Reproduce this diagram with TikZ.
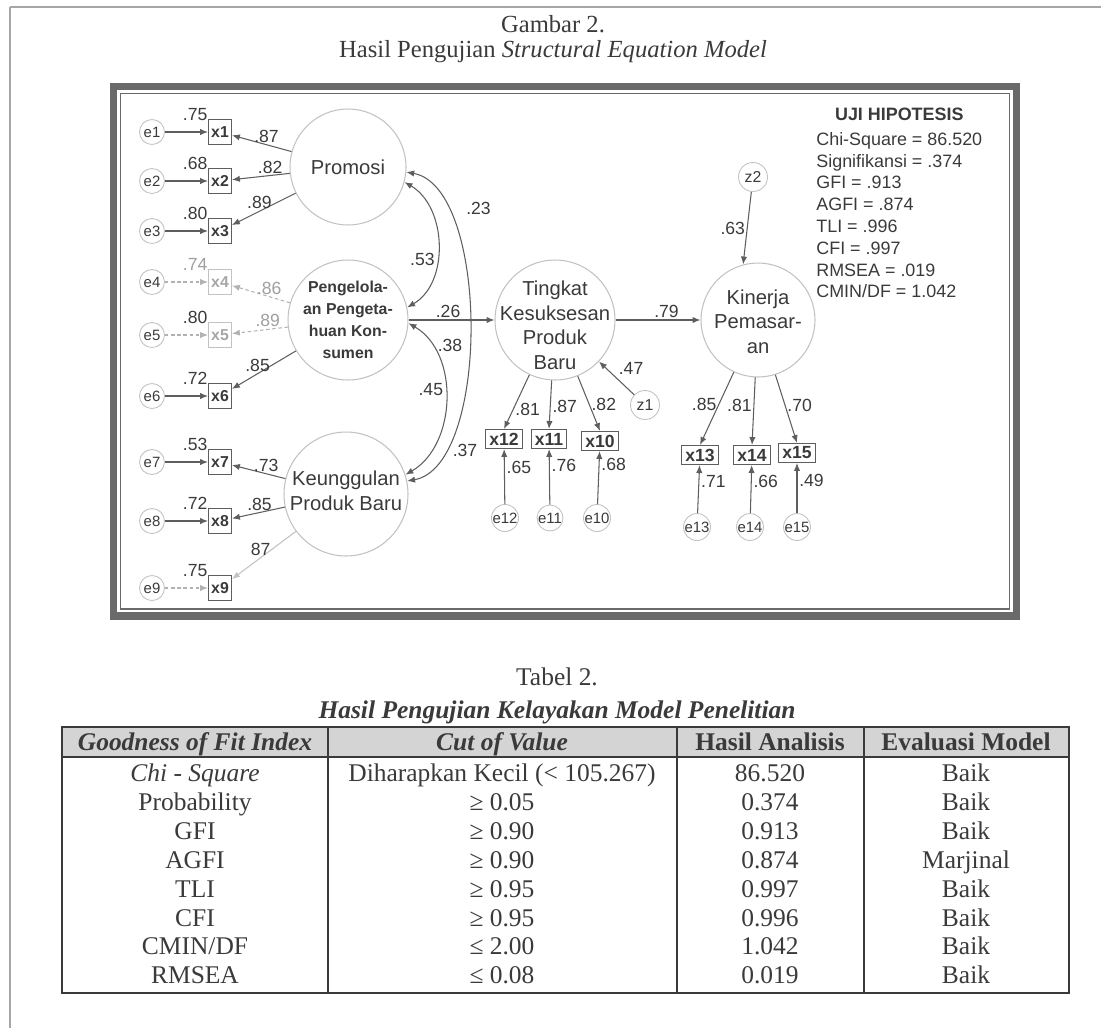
\documentclass[tikz,border=0pt]{standalone}
\usepackage{fontspec}
\setmainfont{Liberation Serif}
\setsansfont{Liberation Sans}
\usepackage{xcolor}
\usetikzlibrary{arrows.meta,positioning}

\definecolor{ink}{HTML}{3A3A3A}
\definecolor{wire}{HTML}{5E5E5E}
\definecolor{faint}{HTML}{C2C2C2}
\definecolor{rim}{HTML}{6A6A6A}
\definecolor{headfill}{HTML}{D4D4D4}

\begin{document}
\begin{tikzpicture}[
    x=0.02cm, y=0.02cm,
    latent/.style={circle, draw=faint, line width=0.6pt, inner sep=0pt},
    ltext/.style={text=ink, font=\sffamily\fontsize{11.5}{14}\selectfont, align=center, inner sep=0pt},
    lbold/.style={text=ink, font=\sffamily\bfseries\fontsize{9}{12.4}\selectfont, align=center, inner sep=0pt},
    indtall/.style={rectangle, draw=wire, line width=0.6pt, text=ink, font=\sffamily\bfseries\fontsize{9}{10}\selectfont, inner xsep=1.5pt, inner ysep=1pt, minimum height=0.5cm},
    indbox/.style={rectangle, draw=wire, line width=0.6pt, text=ink, font=\sffamily\bfseries\fontsize{10}{11}\selectfont, inner xsep=2pt, inner ysep=1pt, minimum height=0.38cm},
    dimbox/.style={indtall, draw=faint, text=gray!70},
    errnode/.style={circle, draw=faint, line width=0.5pt, text=ink, font=\sffamily\fontsize{8.5}{9}\selectfont, inner sep=0pt, minimum size=0.5cm},
    resnode/.style={errnode, font=\sffamily\fontsize{9}{10}\selectfont, minimum size=0.58cm},
    arr/.style={-{Latex[length=4.5pt,width=3.6pt]}, draw=wire, line width=0.6pt},
    covarr/.style={{Latex[length=4.5pt,width=3.6pt]}-{Latex[length=4.5pt,width=3.6pt]}, draw=wire, line width=0.6pt},
    dimarr/.style={arr, draw=gray!60, dash pattern=on 2pt off 1.5pt},
    ghostarr/.style={arr, draw=faint},
    lbl/.style={text=ink, font=\sffamily\fontsize{10}{12}\selectfont, inner sep=1pt},
    dimlbl/.style={lbl, text=gray!75},
    fittitle/.style={text=ink, font=\sffamily\bfseries\fontsize{10.2}{12.4}\selectfont, inner sep=0pt},
    fitlist/.style={text=ink, font=\sffamily\fontsize{10.2}{12.4}\selectfont, align=left, inner sep=0pt},
    capt/.style={text=ink, font=\fontsize{14}{16}\selectfont, inner sep=0pt, anchor=base},
    thead/.style={text=ink, font=\bfseries\fontsize{14.5}{16.44}\selectfont, inner sep=0pt, anchor=base},
    tcol/.style={text=ink, font=\fontsize{14.5}{16.44}\selectfont, align=center, inner sep=0pt, anchor=north},
    tabrule/.style={draw=ink, line width=0.7pt},
    pagerule/.style={draw=gray!70, line width=1.1pt},
]
\useasboundingbox (0,0) rectangle (1101,-1028);

% page rules and caption
\draw[pagerule] (10,-7) -- (1101,-7);
\draw[pagerule] (10,-7) -- (10,-1028);
\node[capt] (figno) at (553,-32.5) {Gambar 2.};
\node[capt] (figtitle) at (553,-57.5) {Hasil Pengujian \textit{Structural Equation Model}};

% diagram frame
\draw[rim, line width=4pt] (113.5,-86.5) rectangle (1016.5,-616);
\draw[rim, line width=0.6pt] (120.5,-93.5) rectangle (1009.5,-609);

% latent variables
\node[latent, minimum size=2.32cm] (prom) at (348,-167) {};
\node[ltext] (promtxt) at (prom) {Promosi};
\node[latent, minimum size=2.4cm] (peng) at (348,-320) {};
\node[lbold] (pengtxt) at (peng) {Pengelola-\\an Pengeta-\\huan Kon-\\sumen};
\node[latent, minimum size=2.48cm] (keun) at (346,-494) {};
\node[ltext] (keuntxt) at ([yshift=2pt]keun) {Keunggulan\\Produk Baru};
\node[latent, minimum size=2.4cm] (ting) at (555,-320) {};
\node[ltext] (tingtxt) at ([yshift=-3pt]ting) {Tingkat\\Kesuksesan\\Produk\\Baru};
\node[latent, minimum size=2.28cm] (kin) at (758,-320) {};
\node[ltext] (kintxt) at ([yshift=-1pt]kin) {Kinerja\\Pemasar-\\an};

% indicators, left
\node[indtall] (x1) at (220,-132) {x1};
\node[indtall] (x2) at (220,-181) {x2};
\node[indtall] (x3) at (220,-231) {x3};
\node[dimbox]  (x4) at (220,-282) {x4};
\node[dimbox]  (x5) at (220,-335) {x5};
\node[indtall] (x6) at (220,-396) {x6};
\node[indtall] (x7) at (220,-462) {x7};
\node[indtall] (x8) at (220,-521) {x8};
\node[indtall] (x9) at (220,-588) {x9};

\node[errnode] (e1) at (152,-132) {e1};
\node[errnode] (e2) at (152,-181) {e2};
\node[errnode] (e3) at (152,-231) {e3};
\node[errnode] (e4) at (152,-282) {e4};
\node[errnode] (e5) at (152,-335) {e5};
\node[errnode] (e6) at (152,-396) {e6};
\node[errnode] (e7) at (152,-462) {e7};
\node[errnode] (e8) at (152,-521) {e8};
\node[errnode] (e9) at (152,-588) {e9};

% indicators, right
\node[indbox] (x12) at (504,-439) {x12};
\node[indbox] (x11) at (549,-439) {x11};
\node[indbox] (x10) at (600,-441) {x10};
\node[indbox] (x13) at (700,-455) {x13};
\node[indbox] (x14) at (752,-455) {x14};
\node[indbox] (x15) at (797,-453) {x15};

\node[errnode] (e12) at (505,-518) {e12};
\node[errnode] (e11) at (550,-518) {e11};
\node[errnode] (e10) at (597,-518) {e10};
\node[errnode] (e13) at (697,-527) {e13};
\node[errnode] (e14) at (750,-527) {e14};
\node[errnode] (e15) at (797,-527) {e15};

\node[resnode] (z1) at (645,-405) {z1};
\node[resnode] (z2) at (753,-177) {z2};

% error terms
\draw[arr] (e1) -- node[lbl, pos=0.7, above=5pt] {.75} (x1);
\draw[arr] (e2) -- node[lbl, pos=0.7, above=5pt] {.68} (x2);
\draw[arr] (e3) -- node[lbl, pos=0.7, above=5pt] {.80} (x3);
\draw[dimarr] (e4) -- node[dimlbl, pos=0.7, above=5pt] {.74} (x4);
\draw[dimarr] (e5) -- node[lbl, pos=0.7, above=5pt] {.80} (x5);
\draw[arr] (e6) -- node[lbl, pos=0.7, above=5pt] {.72} (x6);
\draw[arr] (e7) -- node[lbl, pos=0.7, above=5pt] {.53} (x7);
\draw[arr] (e8) -- node[lbl, pos=0.7, above=5pt] {.72} (x8);
\draw[dimarr] (e9) -- node[lbl, pos=0.7, above=5pt] {.75} (x9);

% loadings
\draw[arr] (prom) -- node[lbl, pos=0.42, above] {.87} (x1);
\draw[arr] (prom) -- node[lbl, pos=0.34, above] {.82} (x2);
\draw[arr] (prom) -- node[lbl, pos=0.57, above] {.89} (x3);
\draw[dimarr] (peng) -- node[dimlbl, pos=0.36, above] {.86} (x4);
\draw[dimarr] (peng) -- node[dimlbl, pos=0.36, above] {.89} (x5);
\draw[arr] (peng) -- node[lbl, pos=0.6, above] {.85} (x6);
\draw[arr] (keun) -- node[lbl, pos=0.36, above] {.73} (x7);
\draw[arr] (keun) -- node[lbl, pos=0.48, above] {.85} (x8);
\draw[ghostarr] (keun) -- node[lbl, pos=0.55, above] {87} (x9);

\draw[arr] (ting) -- node[lbl, pos=0.64, right] {.81} (x12.north);
\draw[arr] (ting) -- node[lbl, pos=0.54, right] {.87} (x11.north);
\draw[arr] (ting) -- node[lbl, pos=0.52, right] {.82} (x10.north);
\draw[arr] (kin) -- node[lbl, pos=0.45, left] {.85} (x13.north);
\draw[arr] (kin) -- node[lbl, pos=0.41, left] {.81} (x14.north);
\draw[arr] (kin) -- node[lbl, pos=0.45, right] {.70} (x15.north);

\draw[arr] (e12) -- node[lbl, pos=0.66, right] {.65} (x12);
\draw[arr] (e11) -- node[lbl, pos=0.7, right] {.76} (x11);
\draw[arr] (e10) -- node[lbl, pos=0.75, right] {.68} (x10);
\draw[arr] (e13) -- node[lbl, pos=0.65, right] {.71} (x13);
\draw[arr] (e14) -- node[lbl, pos=0.65, right] {.66} (x14);
\draw[arr] (e15) -- node[lbl, pos=0.65, right] {.49} (x15);

% structural paths
\draw[arr] (peng) -- node[lbl, pos=0.46, above] {.26} (ting);
\draw[arr] (ting) -- node[lbl, pos=0.6, above] {.79} (kin);
\draw[arr] (z1) -- node[lbl, pos=0.8, right=6pt] {.47} (ting);
\draw[arr] (z2) -- node[lbl, left] {.63} (kin.105);

% covariances
\draw[covarr] (prom.-15) to[out=-30, in=30] node[lbl, pos=0.6, left] {.53} (peng.12);
\draw[covarr] (peng.-3) to[out=-30, in=30] node[lbl, pos=0.45, left] {.45} (keun.18);
\draw[covarr] (prom.-5) to[out=-10, in=10, looseness=0.7] node[lbl, pos=0.2, right=10pt] {.23} (keun.12);
\node[lbl] (c38) at (450,-345) {.38};
\node[lbl] (c37) at (465,-450) {.37};

% fit summary
\node[fitlist, anchor=north west] (ujilist) at (816,-132) {Chi-Square = 86.520\\Signifikansi = .374\\GFI = .913\\AGFI = .874\\TLI = .996\\CFI = .997\\RMSEA = .019\\CMIN/DF = 1.042};
\node[fittitle, above=6pt of ujilist] (ujititle) {UJI HIPOTESIS};

% table
\node[capt, font=\fontsize{14.5}{16}\selectfont] (tabno) at (557,-685.5) {Tabel 2.};
\node[capt, font=\bfseries\itshape\fontsize{14.5}{16}\selectfont] (tabtitle) at (557,-718.5) {Hasil Pengujian Kelayakan Model Penelitian};

\fill[headfill] (62,-727) rectangle (1069,-757);
\draw[tabrule] (62,-727) rectangle (1069,-993);
\draw[tabrule, line width=1.3pt] (62,-757) -- (1069,-757);
\draw[tabrule] (328,-727) -- (328,-993);
\draw[tabrule] (677,-727) -- (677,-993);
\draw[tabrule] (864,-727) -- (864,-993);

\node[thead] (hidx) at (195,-750.5) {\itshape Goodness of Fit Index};
\node[thead] (hcut) at (502,-750.5) {\itshape Cut of Value};
\node[thead] (hres) at (770,-750.5) {Hasil Analisis};
\node[thead] (heval) at (966,-750.5) {Evaluasi Model};

\node[tcol] (cidx) at (195,-761) {\strut\textit{Chi - Square}\\Probability\\GFI\\AGFI\\TLI\\CFI\\CMIN/DF\\RMSEA};
\node[tcol] (ccut) at (502,-761) {\strut Diharapkan Kecil (< 105.267)\\≥ 0.05\\≥ 0.90\\≥ 0.90\\≥ 0.95\\≥ 0.95\\≤ 2.00\\≤ 0.08};
\node[tcol] (cres) at (770,-761) {\strut 86.520\\0.374\\0.913\\0.874\\0.997\\0.996\\1.042\\0.019};
\node[tcol] (ceval) at (966,-761) {\strut Baik\\Baik\\Baik\\Marjinal\\Baik\\Baik\\Baik\\Baik};

\end{tikzpicture}
\end{document}
